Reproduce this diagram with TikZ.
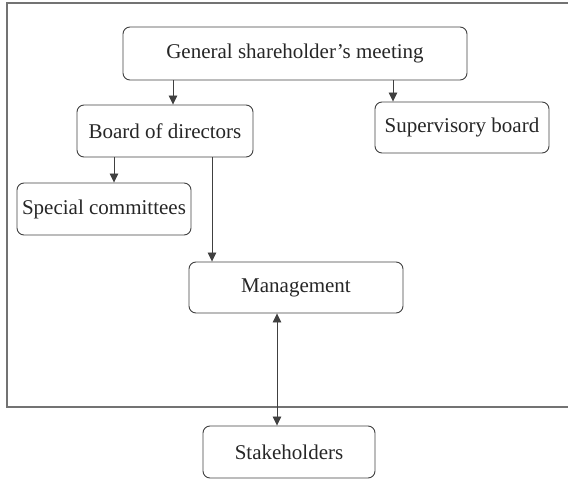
\documentclass[tikz,border=0pt]{standalone}
\usepackage{fontspec}
\setmainfont{Liberation Serif}
\usetikzlibrary{arrows.meta}
\begin{document}
\begin{tikzpicture}[x=1pt,y=-1pt,
  box/.style={draw=black!75, line width=0.9pt, rounded corners=7pt, inner sep=0pt,
    font=\fontsize{21}{24}\selectfont, text=black!85},
  tip/.style={Triangle[length=9pt,width=8.5pt]},
  arr/.style={-{Triangle[length=9pt,width=8.5pt]}, draw=black!75, line width=0.8pt},
  darr/.style={{Triangle[length=9pt,width=8.5pt]}-{Triangle[length=9pt,width=8.5pt]}, draw=black!75, line width=0.8pt}]
\useasboundingbox (0,0) rectangle (568,479);
\draw[black!55, line width=1.2pt] (568,3) -- (7,3) -- (7,407) -- (568,407);
\node[box, minimum width=344pt, minimum height=53pt] (gsm) at (295,53.5) {General shareholder’s meeting};
\node[box, minimum width=176pt, minimum height=52pt] (bod) at (165,131) {Board of directors};
\node[box, minimum width=174pt, minimum height=51pt] (sup) at (462,127.5) {Supervisory board};
\node[box, minimum width=174pt, minimum height=52pt] (spc) at (104,209) {Special committees};
\node[box, minimum width=214pt, minimum height=51pt] (mgt) at (296,287.5) {Management};
\node[box, minimum width=172pt, minimum height=52pt] (stk) at (289,452) {Stakeholders};
\coordinate (x1) at (173,0);
\coordinate (x2) at (393,0);
\coordinate (x3) at (114,0);
\coordinate (x4) at (212,0);
\coordinate (x5) at (277,0);
\draw[arr] (x1 |- gsm.south) -- (x1 |- bod.north);
\draw[arr] (x2 |- gsm.south) -- (x2 |- sup.north);
\draw[arr] (x3 |- bod.south) -- (x3 |- spc.north);
\draw[arr] (x4 |- bod.south) -- (x4 |- mgt.north);
\draw[darr] (x5 |- mgt.south) -- (x5 |- stk.north);
\end{tikzpicture}
\end{document}
